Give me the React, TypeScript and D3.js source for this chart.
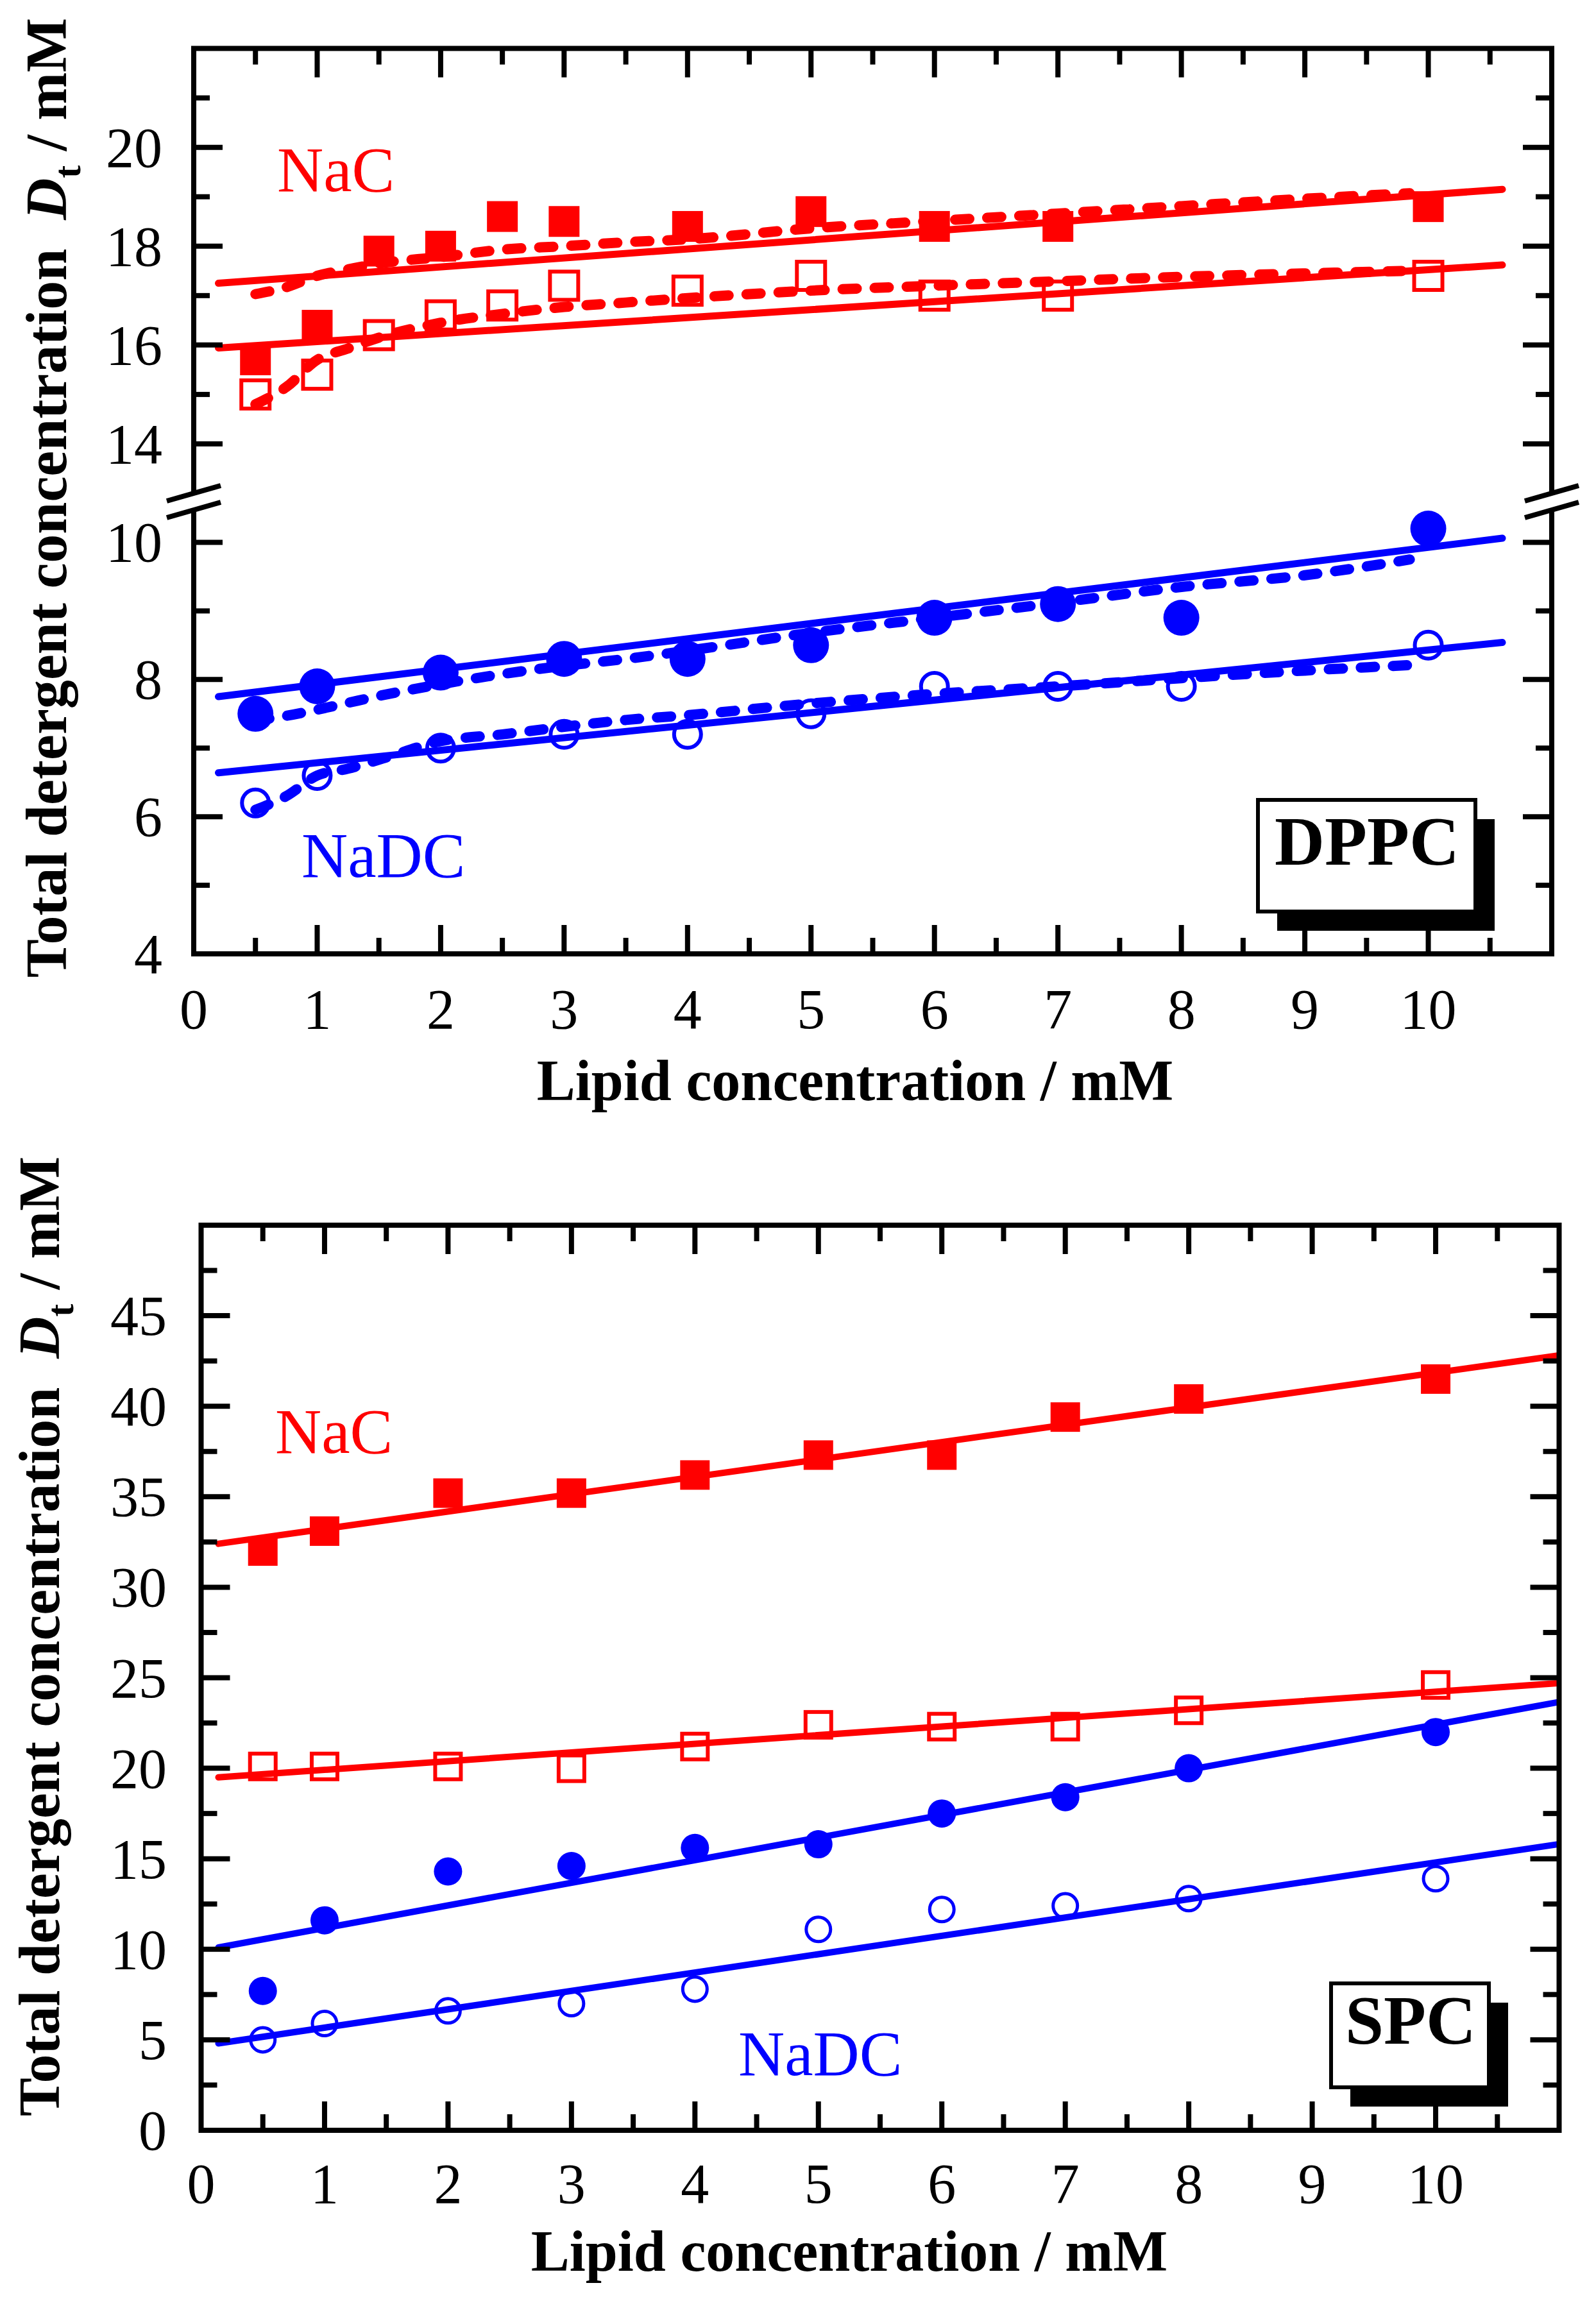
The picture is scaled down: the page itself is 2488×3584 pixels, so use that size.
import * as d3 from "d3";

const FONT = "'Liberation Serif', 'Times New Roman', Times, serif";
const RED = "#ff0000";
const BLUE = "#0000ff";

// x axis (both panels)
const xTickLabels = [0, 1, 2, 3, 4, 5, 6, 7, 8, 9, 10];
const xMajorTicks = [1, 2, 3, 4, 5, 6, 7, 8, 9, 10];
const xMinorTicks = [0.5, 1.5, 2.5, 3.5, 4.5, 5.5, 6.5, 7.5, 8.5, 9.5, 10.5];

// DPPC (top) broken y axis
const dppcUpperTicks = [14, 16, 18, 20];
const dppcUpperMinor = [15, 17, 19, 21];
const dppcLowerTicks = [4, 6, 8, 10];
const dppcLowerMinor = [5, 7, 9];

// SPC (bottom) y axis
const spcTicks = [0, 5, 10, 15, 20, 25, 30, 35, 40, 45];
const spcMinor = [2.5, 7.5, 12.5, 17.5, 22.5, 27.5, 32.5, 37.5, 42.5, 47.5];

// DPPC data
const dppcLipidNaC = [0.5, 1, 1.5, 2, 2.5, 3, 4, 5, 6, 7, 10];
const dppcNaCFilled = [15.7, 16.4, 17.9, 18.0, 18.6, 18.5, 18.4, 18.7, 18.4, 18.4, 18.8];
const dppcNaCOpen = [15.0, 15.4, 16.2, 16.6, 16.8, 17.2, 17.1, 17.4, 17.0, 17.0, 17.4];
const dppcLipidNaDC = [0.5, 1, 2, 3, 4, 5, 6, 7, 8, 10];
const dppcNaDCFilled = [7.5, 7.9, 8.1, 8.3, 8.3, 8.5, 8.9, 9.1, 8.9, 10.2];
const dppcNaDCOpen = [6.2, 6.6, 7.0, 7.2, 7.2, 7.5, 7.9, 7.9, 7.9, 8.5];

// DPPC linear fits (start, end)
const dppcFitX = [0.2, 10.6];
const dppcNaCFilledFit = [17.25, 19.15];
const dppcNaCOpenFit = [15.94, 17.62];
const dppcNaDCFilledFit = [7.75, 10.06];
const dppcNaDCOpenFit = [6.64, 8.54];

// DPPC dashed model curves
const dppcCurveX = [0.5, 0.75, 1, 1.25, 1.5, 2, 2.5, 3, 3.5, 4, 5, 6, 7, 8, 9, 9.85];
const dppcNaCFilledCurve = [17.03, 17.17, 17.4, 17.53, 17.65, 17.78, 17.93, 18.0, 18.08, 18.14, 18.36, 18.51, 18.66, 18.81, 18.96, 19.07];
const dppcNaCOpenCurve = [14.8, 15.15, 15.7, 15.93, 16.15, 16.45, 16.63, 16.77, 16.86, 16.95, 17.1, 17.2, 17.29, 17.38, 17.45, 17.5];
const dppcNaDCFilledCurve = [7.4, 7.47, 7.56, 7.66, 7.76, 7.93, 8.08, 8.2, 8.3, 8.42, 8.68, 8.9, 9.12, 9.35, 9.52, 9.75];
const dppcNaDCOpenCurve = [6.1, 6.3, 6.6, 6.7, 6.83, 7.1, 7.2, 7.31, 7.41, 7.48, 7.65, 7.79, 7.9, 8.02, 8.13, 8.21];

// SPC data
const spcLipid = [0.5, 1, 2, 3, 4, 5, 6, 7, 8, 10];
const spcNaCFilled = [32.0, 33.1, 35.2, 35.2, 36.2, 37.3, 37.3, 39.4, 40.4, 41.5];
const spcNaCOpen = [20.1, 20.1, 20.1, 20.0, 21.2, 22.4, 22.3, 22.3, 23.2, 24.6];
const spcNaDCFilled = [7.7, 11.6, 14.3, 14.6, 15.6, 15.8, 17.5, 18.4, 20.0, 22.0];
const spcNaDCOpen = [5.0, 5.9, 6.6, 7.0, 7.8, 11.1, 12.2, 12.4, 12.8, 13.9];

const spcFitX = [0.14, 10.99];
const spcNaCFilledFit = [32.4, 42.8];
const spcNaCOpenFit = [19.5, 24.7];
const spcNaDCFilledFit = [10.1, 23.65];
const spcNaDCOpenFit = [4.8, 15.8];

// scales
const xTop = d3.scaleLinear().domain([0, 11]).range([302, 2419]);
const yUpper = d3.scaleLinear().domain([13, 22]).range([769, 75.6]);
const yLower = d3.scaleLinear().domain([4, 10.5]).range([1487, 792]);
const yDppc = (v: number) => (v > 11.5 ? yUpper(v) : yLower(v));

const xBot = d3.scaleLinear().domain([0, 11]).range([313.5, 2430.5]);
const yBot = d3.scaleLinear().domain([0, 50]).range([3321, 1910]);

const AX = 8;
const MAJ = 45;
const MIN = 25;

type Pt = [number, number];

function pathOf(xs: number[], ys: number[], x: (v: number) => number, y: (v: number) => number, curved = false) {
    const gen = d3.line<Pt>().x(d => x(d[0])).y(d => y(d[1]));
    if (curved) gen.curve(d3.curveMonotoneX);
    return gen(d3.zip(xs, ys) as Pt[]) || "";
}

function Squares({ xs, ys, x, y, color, size, open }: any) {
    return <g>
        {xs.map((v: number, i: number) => (
            <rect key={i} x={x(v) - size / 2} y={y(ys[i]) - size / 2} width={size} height={size}
                fill={open ? "none" : color} stroke={open ? color : "none"} strokeWidth={6} />
        ))}
    </g>;
}

function Circles({ xs, ys, x, y, color, r, open, sw = 6 }: any) {
    return <g>
        {xs.map((v: number, i: number) => (
            <circle key={i} cx={x(v)} cy={y(ys[i])} r={r}
                fill={open ? "none" : color} stroke={open ? color : "none"} strokeWidth={sw} />
        ))}
    </g>;
}

function XAxis({ x, top, bottom, labelY }: any) {
    return <g>
        {xMajorTicks.map(v => <g key={"M" + v}>
            <line x1={x(v)} x2={x(v)} y1={bottom} y2={bottom - MAJ} stroke="#000" strokeWidth={AX} />
            <line x1={x(v)} x2={x(v)} y1={top} y2={top + MAJ} stroke="#000" strokeWidth={AX} />
        </g>)}
        {xMinorTicks.map(v => <g key={"m" + v}>
            <line x1={x(v)} x2={x(v)} y1={bottom} y2={bottom - MIN} stroke="#000" strokeWidth={AX} />
            <line x1={x(v)} x2={x(v)} y1={top} y2={top + MIN} stroke="#000" strokeWidth={AX} />
        </g>)}
        {xTickLabels.map(v => (
            <text key={"l" + v} x={x(v)} y={labelY} textAnchor="middle" fontSize={88} fontFamily={FONT}>{v}</text>
        ))}
    </g>;
}

function YTicks({ major, minor, y, left, right, labelX }: any) {
    return <g>
        {major.map((v: number) => <g key={"M" + v}>
            <line x1={left} x2={left + MAJ} y1={y(v)} y2={y(v)} stroke="#000" strokeWidth={AX} />
            <line x1={right} x2={right - MAJ} y1={y(v)} y2={y(v)} stroke="#000" strokeWidth={AX} />
            <text x={labelX} y={y(v) + 30} textAnchor="end" fontSize={88} fontFamily={FONT}>{v}</text>
        </g>)}
        {minor.map((v: number) => <g key={"m" + v}>
            <line x1={left} x2={left + MIN} y1={y(v)} y2={y(v)} stroke="#000" strokeWidth={AX} />
            <line x1={right} x2={right - MIN} y1={y(v)} y2={y(v)} stroke="#000" strokeWidth={AX} />
        </g>)}
    </g>;
}

function YTitle({ x, y }: { x: number, y: number }) {
    return <text transform={`translate(${x},${y}) rotate(-90)`} textAnchor="middle" fontSize={90}
        fontWeight="bold" fontFamily={FONT}>
        Total detergent concentration{"\u00a0\u00a0"}<tspan fontStyle="italic">D</tspan>
        <tspan fontSize={60} dy={22}>t</tspan><tspan dy={-22}>{"\u00a0/ mM"}</tspan>
    </text>;
}

function LabelBox({ x, y, w, h, text, textX, textY }: any) {
    return <g>
        <rect x={x + 30} y={y + 30} width={w} height={h} fill="#000" />
        <rect x={x} y={y} width={w} height={h} fill="#fff" stroke="#000" strokeWidth={6} />
        <text x={textX} y={textY} textAnchor="middle" fontSize={108} fontWeight="bold" fontFamily={FONT}>{text}</text>
    </g>;
}

export default function App() {
    const [l1, r1, t1, b1] = [302, 2419, 75.6, 1487];
    const [l2, r2, t2, b2] = [313.5, 2430.5, 1910, 3321];
    const breakTop = 769;
    const breakBot = 795;

    return (
        <svg width={2488} height={3584} viewBox="0 0 2488 3584"
            style={{ position: "absolute", left: 0, top: 0, display: "block", background: "#fff" }}>
            {/* ---------- DPPC panel ---------- */}
            <g>
                <Squares xs={dppcLipidNaC} ys={dppcNaCFilled} x={xTop} y={yDppc} color={RED} size={48} />
                <Squares xs={dppcLipidNaC} ys={dppcNaCOpen} x={xTop} y={yDppc} color={RED} size={44} open />
                <Circles xs={dppcLipidNaDC} ys={dppcNaDCFilled} x={xTop} y={yDppc} color={BLUE} r={28} />
                <Circles xs={dppcLipidNaDC} ys={dppcNaDCOpen} x={xTop} y={yDppc} color={BLUE} r={21} open />

                {[
                    [dppcNaCFilledFit, RED], [dppcNaCOpenFit, RED],
                    [dppcNaDCFilledFit, BLUE], [dppcNaDCOpenFit, BLUE],
                ].map(([ys, c], i) => (
                    <path key={"f" + i} d={pathOf(dppcFitX, ys as number[], xTop, yDppc)} fill="none"
                        stroke={c as string} strokeWidth={11} strokeLinecap="round" />
                ))}
                {[
                    [dppcNaCFilledCurve, RED], [dppcNaCOpenCurve, RED],
                    [dppcNaDCFilledCurve, BLUE], [dppcNaDCOpenCurve, BLUE],
                ].map(([ys, c], i) => (
                    <path key={"c" + i} d={pathOf(dppcCurveX, ys as number[], xTop, yDppc, true)} fill="none"
                        stroke={c as string} strokeWidth={16} strokeLinecap="round" strokeDasharray="22 28" />
                ))}

                {/* frame with axis break */}
                <line x1={l1} x2={r1} y1={t1} y2={t1} stroke="#000" strokeWidth={AX} strokeLinecap="square" />
                <line x1={l1} x2={r1} y1={b1} y2={b1} stroke="#000" strokeWidth={AX} strokeLinecap="square" />
                {[l1, r1].map(xx => <g key={"ax" + xx}>
                    <line x1={xx} x2={xx} y1={t1} y2={breakTop} stroke="#000" strokeWidth={AX} />
                    <line x1={xx} x2={xx} y1={breakBot} y2={b1} stroke="#000" strokeWidth={AX} />
                    <line x1={xx - 42} x2={xx + 42} y1={breakTop + 12} y2={breakTop - 12} stroke="#000" strokeWidth={AX} />
                    <line x1={xx - 42} x2={xx + 42} y1={breakBot + 12} y2={breakBot - 12} stroke="#000" strokeWidth={AX} />
                </g>)}
                <XAxis x={xTop} top={t1} bottom={b1} labelY={1603} />
                <YTicks major={dppcUpperTicks} minor={dppcUpperMinor} y={yUpper} left={l1} right={r1} labelX={253} />
                <YTicks major={dppcLowerTicks} minor={dppcLowerMinor} y={yLower} left={l1} right={r1} labelX={253} />

                <text x={1333} y={1715} textAnchor="middle" fontSize={90} fontWeight="bold" fontFamily={FONT}>
                    Lipid concentration / mM
                </text>
                <YTitle x={103} y={776} />

                <text x={432} y={298} fontSize={100} fill={RED} fontFamily={FONT}>NaC</text>
                <text x={470} y={1367} fontSize={100} fill={BLUE} fontFamily={FONT}>NaDC</text>
                <LabelBox x={1961} y={1247} w={339} h={174} text="DPPC" textX={2131} textY={1348} />
            </g>

            {/* ---------- SPC panel ---------- */}
            <g>
                <Squares xs={spcLipid} ys={spcNaCFilled} x={xBot} y={yBot} color={RED} size={46} />
                <Squares xs={spcLipid} ys={spcNaCOpen} x={xBot} y={yBot} color={RED} size={40} open />
                <Circles xs={spcLipid} ys={spcNaDCFilled} x={xBot} y={yBot} color={BLUE} r={22} />
                <Circles xs={spcLipid} ys={spcNaDCOpen} x={xBot} y={yBot} color={BLUE} r={19} sw={5} open />

                {[
                    [spcNaCFilledFit, RED], [spcNaCOpenFit, RED],
                    [spcNaDCFilledFit, BLUE], [spcNaDCOpenFit, BLUE],
                ].map(([ys, c], i) => (
                    <path key={"s" + i} d={pathOf(spcFitX, ys as number[], xBot, yBot)} fill="none"
                        stroke={c as string} strokeWidth={10} strokeLinecap="round" />
                ))}

                <rect x={l2} y={t2} width={r2 - l2} height={b2 - t2} fill="none" stroke="#000" strokeWidth={AX} />
                <XAxis x={xBot} top={t2} bottom={b2} labelY={3434} />
                <YTicks major={spcTicks} minor={spcMinor} y={yBot} left={l2} right={r2} labelX={260} />

                <text x={1324} y={3540} textAnchor="middle" fontSize={90} fontWeight="bold" fontFamily={FONT}>
                    Lipid concentration / mM
                </text>
                <YTitle x={92} y={2551} />

                <text x={429} y={2265} fontSize={100} fill={RED} fontFamily={FONT}>NaC</text>
                <text x={1151} y={3235} fontSize={100} fill={BLUE} fontFamily={FONT}>NaDC</text>
                <LabelBox x={2075} y={3092} w={246} h={162} text="SPC" textX={2199} textY={3186} />
            </g>
        </svg>
    );
}
